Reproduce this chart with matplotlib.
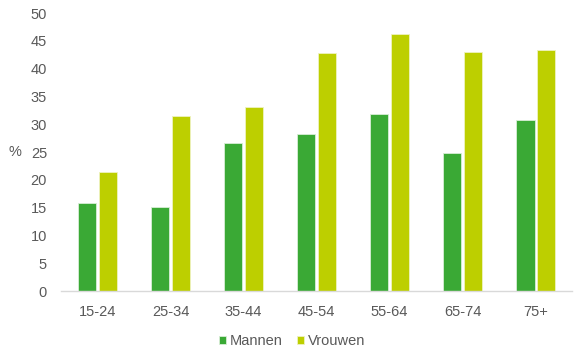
import numpy as np
import matplotlib
matplotlib.use('Agg')
from matplotlib import pyplot as plt

plt.rcParams['font.family'] = ['Liberation Sans', 'DejaVu Sans']

ages = ['15-24', '25-34', '35-44', '45-54', '55-64', '65-74', '75+']
mannen = [15.8, 15.1, 26.6, 28.2, 31.9, 24.9, 30.7]
vrouwen = [21.4, 31.5, 33.1, 42.8, 46.3, 43.0, 43.3]

grey = '#595959'
x = np.arange(len(ages))
w = 0.25

fig = plt.figure(figsize=(5.75, 3.52), dpi=100)
ax = fig.add_axes([0.106, 0.173, 0.889, 0.79])

ax.bar(x - 0.14, mannen, w, color='#3AA935', edgecolor='#d8eed6', linewidth=0.6, label='Mannen')
ax.bar(x + 0.14, vrouwen, w, color='#BDCF00', edgecolor='#eef3c0', linewidth=0.6, label='Vrouwen')

ax.set_xlim(-0.5, len(ages) - 0.5)
ax.set_ylim(0, 50)
ax.set_yticks(range(0, 51, 5))
ax.set_xticks(x)
ax.set_xticklabels(ages)
ax.tick_params(axis='both', length=0, labelsize=10.5, colors=grey)
ax.tick_params(axis='y', pad=10)
ax.tick_params(axis='x', pad=10)

for s in ['top', 'right', 'left']:
    ax.spines[s].set_visible(False)
ax.spines['bottom'].set_color('#d9d9d9')
ax.spines['bottom'].set_linewidth(1)

fig.text(15 / 575, 1 - 152 / 352, '%', fontsize=10.5, color=grey, ha='center', va='center')

fig.legend(*ax.get_legend_handles_labels(), loc='center', bbox_to_anchor=(292 / 575, 0.031),
           ncol=2, frameon=False, fontsize=10.5, labelcolor=grey,
           handlelength=0.5, handleheight=0.5, handletextpad=0.25, columnspacing=1.0)

fig.savefig('out.png', dpi=100)
